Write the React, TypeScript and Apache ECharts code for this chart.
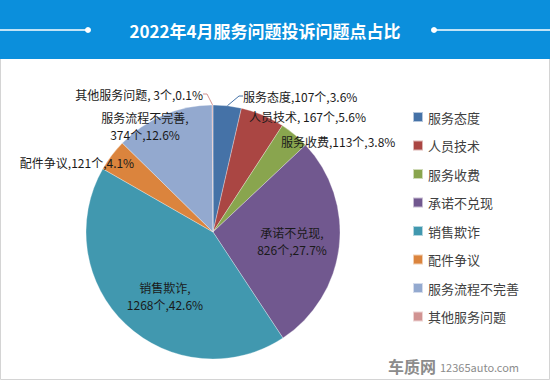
import React, { useEffect, useRef } from "react";
import * as echarts from "echarts";

const categories = ["服务态度", "人员技术", "服务收费", "承诺不兑现", "销售欺诈", "配件争议", "服务流程不完善", "其他服务问题"];
const counts = [107, 167, 113, 826, 1268, 121, 374, 3];
const colors = ["#4572A7", "#AA4643", "#89A54E", "#71588F", "#4198AF", "#DB843D", "#93A9CF", "#D19392"];
// separators between name / count / percent in each label
const nameSeparators = [",", ", ", ",", ",\n", ",\n", ",", ",\n", ", "];
const titleText = "2022年4月服务问题投诉问题点占比";

// label placement (layout only)
const labelPlacement: { x: number; y: number; align: string; line: boolean }[] = [
  { x: 243, y: 96, align: "left", line: true },
  { x: 249, y: 116, align: "left", line: false },
  { x: 281, y: 141, align: "left", line: false },
  { x: 292, y: 241, align: "center", line: false },
  { x: 165, y: 296, align: "center", line: false },
  { x: 77, y: 162, align: "center", line: false },
  { x: 145, y: 126, align: "center", line: false },
  { x: 203, y: 94, align: "right", line: true },
];

const FONT = "'Noto Sans CJK SC', 'Microsoft YaHei', sans-serif";

export default function App() {
  const ref = useRef<HTMLDivElement>(null);
  useEffect(() => {
    document.body.style.margin = "0";
    const chart = echarts.init(ref.current!, null, { renderer: "svg" });
    const total = counts.reduce((a, b) => a + b, 0);
    const data = categories.map((name, i) => ({
      name,
      value: counts[i],
      itemStyle: { color: colors[i] },
      label: {
        formatter: (p: any) =>
          `${p.name}${nameSeparators[p.dataIndex]}${p.value}个,${((p.value / total) * 100).toFixed(1)}%`,
        position: labelPlacement[i].line ? "outside" : "inside",
      },
      labelLine: { show: labelPlacement[i].line, length: 6, length2: 4, lineStyle: { width: 1 } },
    }));
    chart.setOption({
      animation: false,
      backgroundColor: "#ffffff",
      textStyle: { fontFamily: FONT },
      graphic: [
        {
          type: "rect",
          shape: { x: 0.5, y: 0.5, width: 549, height: 379 },
          style: { fill: "#fff", stroke: "#d4d4d4", lineWidth: 1 },
          z: -10,
        },
        { type: "rect", shape: { x: 0, y: 0, width: 550, height: 59 }, style: { fill: "#0b8fdc" }, z: -5 },
        { type: "line", shape: { x1: 0, y1: 30, x2: 88, y2: 30 }, style: { stroke: "#fff", lineWidth: 1.5 } },
        { type: "circle", shape: { cx: 88, cy: 30, r: 3 }, style: { fill: "#fff" } },
        { type: "line", shape: { x1: 434, y1: 30, x2: 550, y2: 30 }, style: { stroke: "#fff", lineWidth: 1.5 } },
        { type: "circle", shape: { cx: 434, cy: 30, r: 3 }, style: { fill: "#fff" } },
        {
          type: "text",
          x: 265,
          y: 30,
          style: {
            text: titleText,
            fill: "#fff",
            font: `bold 17px ${FONT}`,
            align: "center",
            verticalAlign: "middle",
          },
        },
        {
          type: "text",
          x: 436,
          y: 366,
          style: {
            text: "车质网",
            fill: "#8c8c8c",
            font: `bold 16px ${FONT}`,
            align: "right",
            verticalAlign: "middle",
          },
        },
        {
          type: "text",
          x: 440,
          y: 367,
          style: {
            text: "12365auto.com",
            fill: "#8c8c8c",
            font: `11px ${FONT}`,
            align: "left",
            verticalAlign: "middle",
          },
        },
      ],
      legend: {
        orient: "vertical",
        left: 407,
        top: 105,
        icon: "rect",
        itemWidth: 10,
        itemHeight: 10,
        itemGap: 14.5,
        data: categories,
        textStyle: { fontSize: 13, color: "#404040", lineHeight: 14, fontFamily: FONT },
      },
      series: [
        {
          type: "pie",
          center: [213, 232],
          radius: 127,
          startAngle: 90,
          clockwise: true,
          avoidLabelOverlap: false,
          itemStyle: { borderColor: "rgba(255,255,255,0.6)", borderWidth: 0.5 },
          label: { fontSize: 12, color: "#1a1a1a", lineHeight: 17, fontFamily: FONT },
          labelLayout: (params: any) => {
            const p = labelPlacement[params.dataIndex];
            return { x: p.x, y: p.y, align: p.align, verticalAlign: "middle" };
          },
          emphasis: { disabled: true },
          data,
        },
      ],
    });
    return () => chart.dispose();
  }, []);
  return <div ref={ref} style={{ position: "fixed", left: 0, top: 0, width: 550, height: 380 }} />;
}
